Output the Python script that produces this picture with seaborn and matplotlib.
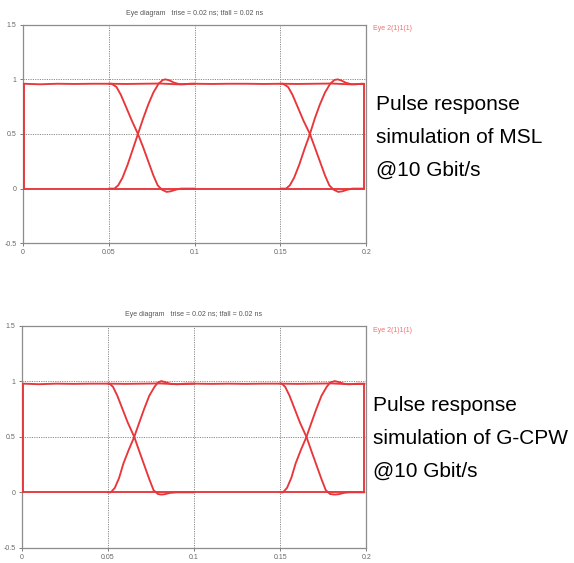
import numpy as np
import pandas as pd
import matplotlib
matplotlib.use("Agg")
import matplotlib.pyplot as plt
import seaborn as sns

# ---------------- data ----------------
x_ticks = [0, 0.05, 0.1, 0.15, 0.2]
x_tick_labels = ["0", "0.05", "0.1", "0.15", "0.2"]
y_ticks = [-0.5, 0, 0.5, 1, 1.5]
y_tick_labels = ["-0.5", "0", "0.5", "1", "1.5"]

title_text = "Eye diagram   trise = 0.02 ns; tfall = 0.02 ns"
legend_text = "Eye 2(1)1(1)"

# --- MSL (top) ---
msl_high_t = [0.0005, 0.01, 0.02, 0.03, 0.04, 0.05, 0.06, 0.07, 0.08, 0.09, 0.10,
              0.11, 0.12, 0.13, 0.14, 0.15, 0.16, 0.17, 0.18, 0.19, 0.1988]
msl_high_v = [0.96, 0.955, 0.96, 0.958, 0.96, 0.96, 0.958, 0.96, 0.962, 0.955, 0.96,
              0.958, 0.96, 0.96, 0.958, 0.96, 0.958, 0.96, 0.962, 0.955, 0.958]
msl_low_t = [0.0005, 0.05, 0.1, 0.15, 0.1988]
msl_low_v = [0.0, 0.0, 0.0, 0.0, 0.0]
msl_rise1_t = [0.050, 0.0533, 0.0555, 0.058, 0.061, 0.064, 0.067, 0.070, 0.073, 0.076,
               0.079, 0.0815, 0.0831, 0.0855, 0.088, 0.0914, 0.094, 0.097, 0.100]
msl_rise1_v = [0.0, 0.0, 0.03, 0.1, 0.22, 0.36, 0.5, 0.64, 0.77, 0.88,
               0.96, 0.995, 1.0, 0.99, 0.97, 0.955, 0.955, 0.96, 0.96]
msl_fall1_t = [0.050, 0.0516, 0.0545, 0.057, 0.060, 0.0635, 0.067, 0.070, 0.073, 0.076,
               0.0785, 0.081, 0.0837, 0.086, 0.089, 0.092, 0.100]
msl_fall1_v = [0.96, 0.96, 0.93, 0.86, 0.75, 0.62, 0.5, 0.38, 0.25, 0.12,
               0.03, -0.01, -0.03, -0.025, -0.01, 0.0, 0.0]
msl_rise2_t = [0.150, 0.1533, 0.1555, 0.158, 0.161, 0.164, 0.1672, 0.170, 0.173, 0.176,
               0.179, 0.1815, 0.1835, 0.1855, 0.188, 0.1914, 0.194, 0.197, 0.1988]
msl_rise2_v = [0.0, 0.0, 0.03, 0.1, 0.22, 0.36, 0.5, 0.64, 0.77, 0.88,
               0.96, 0.995, 1.0, 0.99, 0.97, 0.955, 0.955, 0.96, 0.96]
msl_fall2_t = [0.150, 0.1516, 0.1545, 0.157, 0.160, 0.1635, 0.1672, 0.170, 0.173, 0.176,
               0.1785, 0.181, 0.1837, 0.186, 0.189, 0.192, 0.1988]
msl_fall2_v = [0.96, 0.96, 0.93, 0.86, 0.75, 0.62, 0.5, 0.38, 0.25, 0.12,
               0.03, -0.01, -0.03, -0.025, -0.01, 0.0, 0.0]
msl_edge_l_t = [0.0005, 0.0005]
msl_edge_l_v = [0.0, 0.96]
msl_edge_r_t = [0.1988, 0.1988]
msl_edge_r_v = [0.0, 0.958]

# --- G-CPW (bottom) ---
cpw_high_t = [0.0006, 0.01, 0.02, 0.03, 0.04, 0.05, 0.06, 0.07, 0.08, 0.09, 0.10,
              0.11, 0.12, 0.13, 0.14, 0.15, 0.16, 0.17, 0.18, 0.19, 0.199]
cpw_high_v = [0.98, 0.975, 0.98, 0.978, 0.98, 0.98, 0.978, 0.98, 0.982, 0.975, 0.98,
              0.978, 0.98, 0.978, 0.98, 0.98, 0.978, 0.98, 0.982, 0.975, 0.978]
cpw_low_t = [0.0006, 0.05, 0.1, 0.15, 0.199]
cpw_low_v = [0.0, 0.0, 0.0, 0.0, 0.0]
cpw_rise1_t = [0.050, 0.0517, 0.054, 0.0565, 0.059, 0.062, 0.0653, 0.068, 0.071, 0.074,
               0.077, 0.079, 0.081, 0.083, 0.086, 0.090, 0.095, 0.100]
cpw_rise1_v = [0.0, 0.0, 0.04, 0.13, 0.26, 0.38, 0.5, 0.62, 0.75, 0.87,
               0.95, 0.99, 1.003, 0.995, 0.98, 0.975, 0.98, 0.98]
cpw_fall1_t = [0.050, 0.051, 0.053, 0.0555, 0.058, 0.0615, 0.0653, 0.068, 0.071, 0.074,
               0.0765, 0.079, 0.081, 0.083, 0.086, 0.090, 0.100]
cpw_fall1_v = [0.98, 0.98, 0.95, 0.87, 0.77, 0.63, 0.5, 0.38, 0.25, 0.12,
               0.02, -0.015, -0.02, -0.017, -0.005, 0.0, 0.0]
cpw_rise2_t = [0.150, 0.1517, 0.154, 0.1565, 0.159, 0.162, 0.1653, 0.168, 0.171, 0.174,
               0.177, 0.179, 0.1817, 0.184, 0.187, 0.190, 0.195, 0.199]
cpw_rise2_v = [0.0, 0.0, 0.04, 0.13, 0.26, 0.38, 0.5, 0.62, 0.75, 0.87,
               0.95, 0.99, 1.003, 0.995, 0.98, 0.975, 0.98, 0.98]
cpw_fall2_t = [0.150, 0.151, 0.153, 0.1555, 0.158, 0.1615, 0.1653, 0.168, 0.171, 0.174,
               0.1765, 0.179, 0.1817, 0.184, 0.187, 0.190, 0.199]
cpw_fall2_v = [0.98, 0.98, 0.95, 0.87, 0.77, 0.63, 0.5, 0.38, 0.25, 0.12,
               0.02, -0.015, -0.02, -0.017, -0.005, 0.0, 0.0]
cpw_edge_l_t = [0.0006, 0.0006]
cpw_edge_l_v = [0.0, 0.98]
cpw_edge_r_t = [0.199, 0.199]
cpw_edge_r_v = [0.0, 0.978]

msl_note = ["Pulse response", "simulation of MSL", "@10 Gbit/s"]
cpw_note = ["Pulse response", "simulation of G-CPW", "@10 Gbit/s"]


def build(traces):
    rows = []
    for k, (t, v) in enumerate(traces):
        for ti, vi in zip(t, v):
            rows.append({"t": ti, "v": vi, "trace": k})
    return pd.DataFrame(rows)


msl_df = build([(msl_high_t, msl_high_v), (msl_low_t, msl_low_v),
                (msl_rise1_t, msl_rise1_v), (msl_fall1_t, msl_fall1_v),
                (msl_rise2_t, msl_rise2_v), (msl_fall2_t, msl_fall2_v),
                (msl_edge_l_t, msl_edge_l_v), (msl_edge_r_t, msl_edge_r_v)])
cpw_df = build([(cpw_high_t, cpw_high_v), (cpw_low_t, cpw_low_v),
                (cpw_rise1_t, cpw_rise1_v), (cpw_fall1_t, cpw_fall1_v),
                (cpw_rise2_t, cpw_rise2_v), (cpw_fall2_t, cpw_fall2_v),
                (cpw_edge_l_t, cpw_edge_l_v), (cpw_edge_r_t, cpw_edge_r_v)])

# ---------------- drawing ----------------
sns.set_style("white")
plt.rcParams["font.family"] = ["Liberation Sans", "DejaVu Sans"]

fig = plt.figure(figsize=(5.74, 5.63), dpi=100)
ax1 = fig.add_axes([0.040, 0.568, 0.598, 0.388])
ax2 = fig.add_axes([0.038, 0.027, 0.600, 0.394])

RED = "#e8363a"


def style(ax, df):
    for gx in [0.05, 0.1, 0.15]:
        ax.axvline(gx, color="#8a8a8a", lw=0.7, ls=(0, (1.2, 1.2)), zorder=1)
    for gy in [0.5, 1.0]:
        ax.axhline(gy, color="#8a8a8a", lw=0.7, ls=(0, (1.2, 1.2)), zorder=1)
    sns.lineplot(data=df, x="t", y="v", units="trace", estimator=None, sort=False,
                 color=RED, lw=1.35, ax=ax, legend=False, zorder=3)
    ax.set_xlim(0, 0.2)
    ax.set_ylim(-0.5, 1.5)
    ax.set_xticks(x_ticks)
    ax.set_xticklabels(x_tick_labels)
    ax.set_yticks(y_ticks)
    ax.set_yticklabels(y_tick_labels)
    ax.set_xlabel("")
    ax.set_ylabel("")
    ax.tick_params(axis="both", labelsize=5, colors="#666666", length=2.5,
                   width=0.6, pad=2, direction="out", left=True, bottom=True)
    for s in ax.spines.values():
        s.set_color("#8c8c8c")
        s.set_linewidth(0.9)
        s.set_visible(True)
    ax.set_title(title_text, fontsize=5, color="#555555", pad=7)


style(ax1, msl_df)
style(ax2, cpw_df)

fig.text(373 / 574, 1 - 28 / 563, legend_text, fontsize=5, color="#f07070",
         va="center", ha="left")
fig.text(373 / 574, 1 - 331 / 563, legend_text, fontsize=5, color="#f07070",
         va="center", ha="left")

for line, yy in zip(msl_note, [110, 143, 176]):
    fig.text(376 / 574, 1 - yy / 563, line, fontsize=15, color="black",
             va="baseline", ha="left")
for line, yy in zip(cpw_note, [411, 444, 477]):
    fig.text(373 / 574, 1 - yy / 563, line, fontsize=15, color="black",
             va="baseline", ha="left")

fig.savefig("out.png", dpi=100)
